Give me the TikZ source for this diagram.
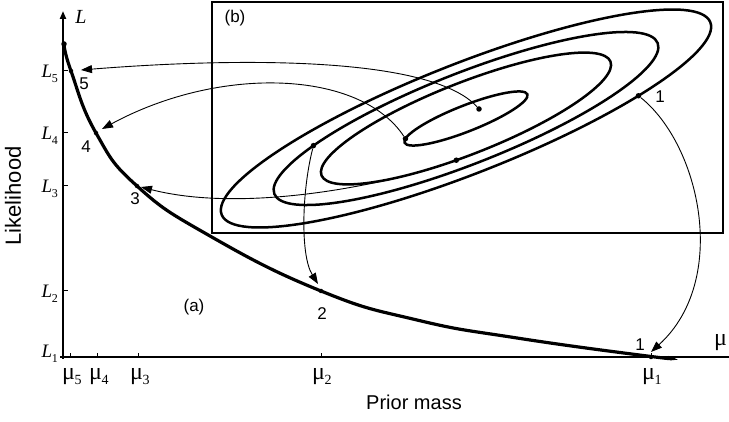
\documentclass[tikz,border=0pt]{standalone}
\usepackage{fontspec}
\setmainfont{Liberation Serif}
\newfontfamily\sansf{Liberation Sans}
\usetikzlibrary{arrows.meta}
\newcommand\musub[1]{μ\kern-0.5pt\raisebox{-0.2em}{\fontsize{14}{14}\selectfont #1}}
\newcommand\Lsub[1]{\textit{L}\kern-0.5pt\raisebox{-0.28em}{\fontsize{12}{12}\selectfont #1}}
\begin{document}
\begin{tikzpicture}[x=1pt,y=-1pt,
  axisline/.style={line width=2pt},
  lcurve/.style={line width=3.2pt},
  contour/.style={line width=2.5pt},
  conn/.style={line width=0.9pt,-{Triangle[length=11pt,width=8pt]}},
  pt/.style={circle,fill,inner sep=0pt,minimum size=5.5pt},
  cpt/.style={circle,fill,inner sep=0pt,minimum size=4.5pt},
  numlab/.style={font=\sansf\fontsize{17}{17}\selectfont,inner sep=0pt},
  partlab/.style={font=\sansf\fontsize{17}{17}\selectfont,inner sep=0pt},
  axlab/.style={font=\sansf\fontsize{20}{20}\selectfont,inner sep=0pt},
  mulab/.style={font=\fontsize{24}{24}\selectfont,inner sep=0pt,anchor=west},
  Llab/.style={font=\fontsize{19}{19}\selectfont,inner sep=0pt,anchor=east}]
\useasboundingbox (0,0) rectangle (729,422);

% axes
\draw[axisline,-{Triangle[length=8pt,width=6pt]}] (63,359) -- (63,11);
\draw[axisline] (60,357) -- (729,357);
\node[font=\fontsize{20}{20}\selectfont\itshape,inner sep=0pt] (Lax) at (81,17) {L};
\node[mulab] (muax) at (714,343) {μ};

% ticks
\foreach \yy in {71,133,186,291} \draw[line width=1pt] (63,\yy) -- (68,\yy);
\foreach \xx in {70,97,138,321,651} \draw[line width=1pt] (\xx,357) -- (\xx,353);

% L labels
\node[Llab] (L5) at (58,74) {\Lsub{5}};
\node[Llab] (L4) at (58,136) {\Lsub{4}};
\node[Llab] (L3) at (58,189) {\Lsub{3}};
\node[Llab] (L2) at (58,294) {\Lsub{2}};
\node[Llab] (L1) at (58,354) {\Lsub{1}};

% mu labels
\node[mulab] (m5) at (62,377) {\musub{5}};
\node[mulab] (m4) at (89,377) {\musub{4}};
\node[mulab] (m3) at (130,377) {\musub{3}};
\node[mulab] (m2) at (312,377) {\musub{2}};
\node[mulab] (m1) at (642,377) {\musub{1}};

% axis titles
\node[axlab,font=\sansf\fontsize{22}{22}\selectfont,rotate=90] (ylab) at (13,196) {Likelihood};
\node[axlab] (xlab) at (414,402) {Prior mass};
\node[partlab] (pa) at (194,307) {(a)};

% likelihood curve
\draw[lcurve] plot[smooth,tension=0.8] coordinates {(64,44) (71,71) (96,133) (137,186) (210,236) (321,291) (417,320) (517,338) (651,356.5) (668,357.5)};
\node[pt] (p0) at (64,44) {};
\node[cpt] (p5) at (71,71) {};
\node[cpt] (p4) at (96,133) {};
\node[cpt] (p3) at (137,186) {};
\node[cpt] (p2) at (321,291) {};
\node[cpt] (p1) at (651,357) {};

\node[numlab] (n5) at (84,84) {5};
\node[numlab] (n4) at (86,147) {4};
\node[numlab] (n3) at (135,199) {3};
\node[numlab] (n2) at (322,314) {2};
\node[numlab] (n1) at (640,345) {1};

% box (b)
\draw[line width=1.5pt] (212,2) rectangle (723,233);
\node[partlab] (pb) at (235,18) {(b)};

% contours
\begin{scope}[shift={(466,118.5)},rotate=21.5,y=1pt]
  \draw[contour] (0,0) ellipse [x radius=262.6, y radius=54.9];
  \draw[contour] (0,0) ellipse [x radius=206, y radius=45.4];
  \draw[contour] (0,0) ellipse [x radius=155.3, y radius=35.7];
  \draw[contour] (0,0) ellipse [x radius=66, y radius=13];
  \node[pt] (d1) at (-50:262.6 and 54.9) {};
  \node[pt] (d2) at (137.5:206 and 45.4) {};
  \node[pt] (d3) at (-99:155.3 and 35.7) {};
  \node[pt] (d4) at (165:66 and 13) {};
\end{scope}
\node[pt] (d5) at (479,109) {};
\node[numlab] (b1) at (660,97) {1};

% arrow targets
\coordinate (t5) at (81,70);
\coordinate (t4) at (102,129);
\coordinate (t3) at (141,187);
\coordinate (t2) at (318,284);
\coordinate (t1) at (651,352);

% connectors
\draw[conn] (d5) .. controls (430,55) and (230,58) .. (t5);
\draw[conn] (d4) .. controls (360,70) and (220,65) .. (t4);
\draw[conn] (d3) .. controls (400,181) and (250,215) .. (t3);
\draw[conn] (d2) .. controls (302,190) and (300,255) .. (t2);
\draw[conn] (d1) .. controls (700,145) and (730,280) .. (t1);
\end{tikzpicture}
\end{document}
